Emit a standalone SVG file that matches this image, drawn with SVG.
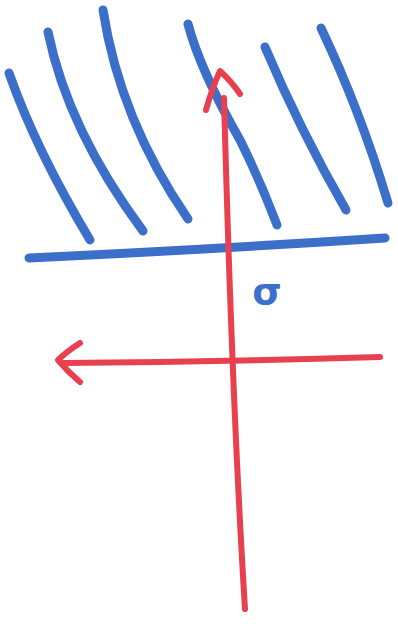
<svg xmlns="http://www.w3.org/2000/svg" width="398" height="630" viewBox="0 0 398 630">
<style>
.b{fill:none;stroke:#3b6fca;stroke-width:9;stroke-linecap:round;stroke-linejoin:round}
.r{fill:none;stroke:#e8404f;stroke-width:6;stroke-linecap:round;stroke-linejoin:round}
</style>
<rect width="398" height="630" fill="#fff"/>
<g id="hatching">
<path class="b" d="M9,73 Q36,150 90,240"/>
<path class="b" d="M48,32 Q68,130 143,231"/>
<path class="b" d="M103,10 Q120,120 188,219"/>
<path class="b" d="M188,24 Q200,70 240,140 Q260,180 277,225"/>
<path class="b" d="M265,47 Q300,130 346,210"/>
<path class="b" d="M321,28 Q360,110 388,203"/>
</g>
<g id="surface">
<path class="b" d="M29,258 Q200,250 385,238"/>
</g>
<g id="label">
<text x="267" y="304" font-family="DejaVu Sans, sans-serif" font-size="38" font-weight="bold" fill="#3b6fca" text-anchor="middle">σ</text>
</g>
<g id="connectors">
<path class="r" d="M245,609 Q232,400 224,98"/>
<path class="r" d="M206,110 Q212,88 220,71 Q232,82 240,94"/>
<path class="r" d="M380,357 Q220,362 62,363"/>
<path class="r" d="M80,343 Q66,352 58,360 Q68,372 80,382"/>
</g>
</svg>
